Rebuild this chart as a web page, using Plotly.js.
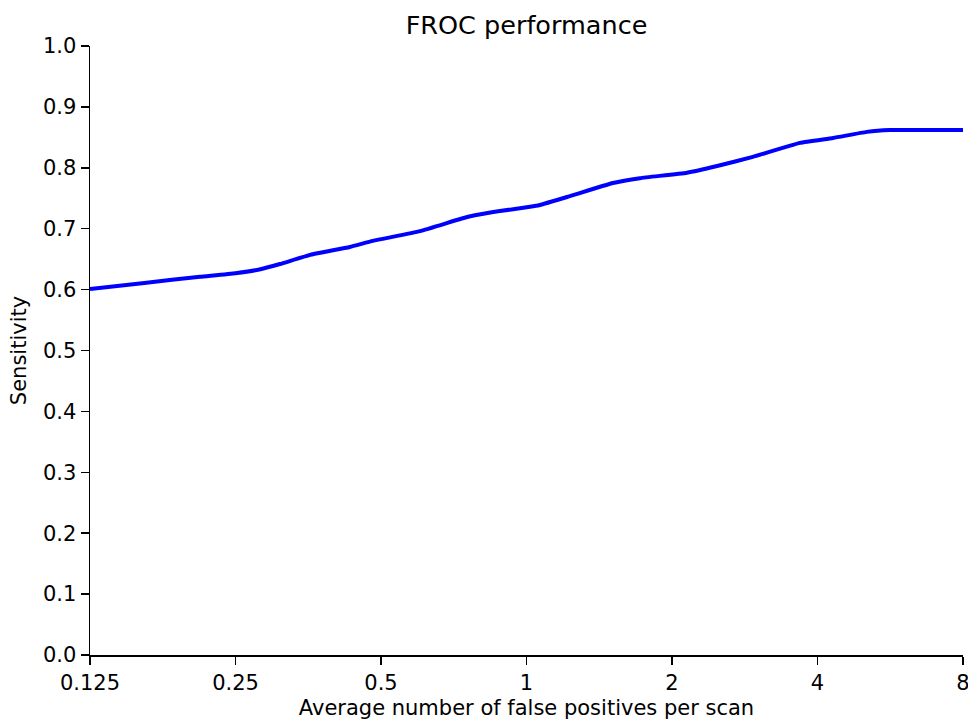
<!DOCTYPE html>
<html>
<head>
<meta charset="utf-8">
<script src="https://cdn.plot.ly/plotly-3.0.1.min.js"></script>
<style>html,body{margin:0;padding:0;background:#fff;}#chart{width:968px;height:722px;}</style>
</head>
<body>
<div id="chart"></div>
<script>
const fpPerScan = [0.125, 0.162, 0.211, 0.25, 0.28, 0.309, 0.357, 0.431, 0.481, 0.602, 0.729, 0.782, 0.881, 1.017, 1.066, 1.213, 1.51, 1.717, 2.148, 2.48, 2.94, 3.68, 4.31, 5.06, 5.65, 8];
const sensitivity = [0.601, 0.611, 0.621, 0.627, 0.633, 0.642, 0.657, 0.670, 0.680, 0.696, 0.716, 0.722, 0.729, 0.736, 0.739, 0.752, 0.775, 0.783, 0.792, 0.803, 0.818, 0.841, 0.849, 0.859, 0.862, 0.862];
const xTickVals = [0.125, 0.25, 0.5, 1, 2, 4, 8];
const xTickText = ['0.125', '0.25', '0.5', '1', '2', '4', '8'];

const font = {family: 'DejaVu Sans', size: 21, color: '#000'};
const trace = {
  x: fpPerScan, y: sensitivity, type: 'scatter', mode: 'lines',
  line: {color: '#0000ff', width: 4, shape: 'spline', smoothing: 0.4}
};
const layout = {
  width: 968, height: 722,
  margin: {l: 90, r: 5, t: 46, b: 67},
  paper_bgcolor: '#fff', plot_bgcolor: '#fff',
  font: font,
  showlegend: false,
  title: {text: 'FROC performance', font: {family: 'DejaVu Sans', size: 25.5, color: '#000'}, x: 0.5, xanchor: 'center', y: 0.965, yanchor: 'middle', xref: 'paper'},
  xaxis: {
    type: 'log', range: [Math.log10(0.125) - 1e-6, Math.log10(8) + 1e-6],
    tickvals: xTickVals, ticktext: xTickText, ticklabeloverflow: 'allow',
    showgrid: false, zeroline: false, showline: true, linecolor: '#000', linewidth: 1.5,
    ticks: 'outside', ticklen: 8, tickwidth: 1.5, tickcolor: '#000',
    tickfont: font,
    title: {text: 'Average number of false positives per scan', font: font, standoff: 6}
  },
  yaxis: {
    range: [0, 1], dtick: 0.1, tick0: 0, tickformat: '.1f',
    showgrid: false, zeroline: false, showline: true, linecolor: '#000', linewidth: 1.5,
    ticks: 'outside', ticklen: 8, tickwidth: 1.5, tickcolor: '#000',
    tickfont: font,
    title: {text: 'Sensitivity', font: font, standoff: 10}
  }
};
Plotly.newPlot('chart', [trace], layout, {displayModeBar: false, staticPlot: true});
</script>
</body>
</html>
